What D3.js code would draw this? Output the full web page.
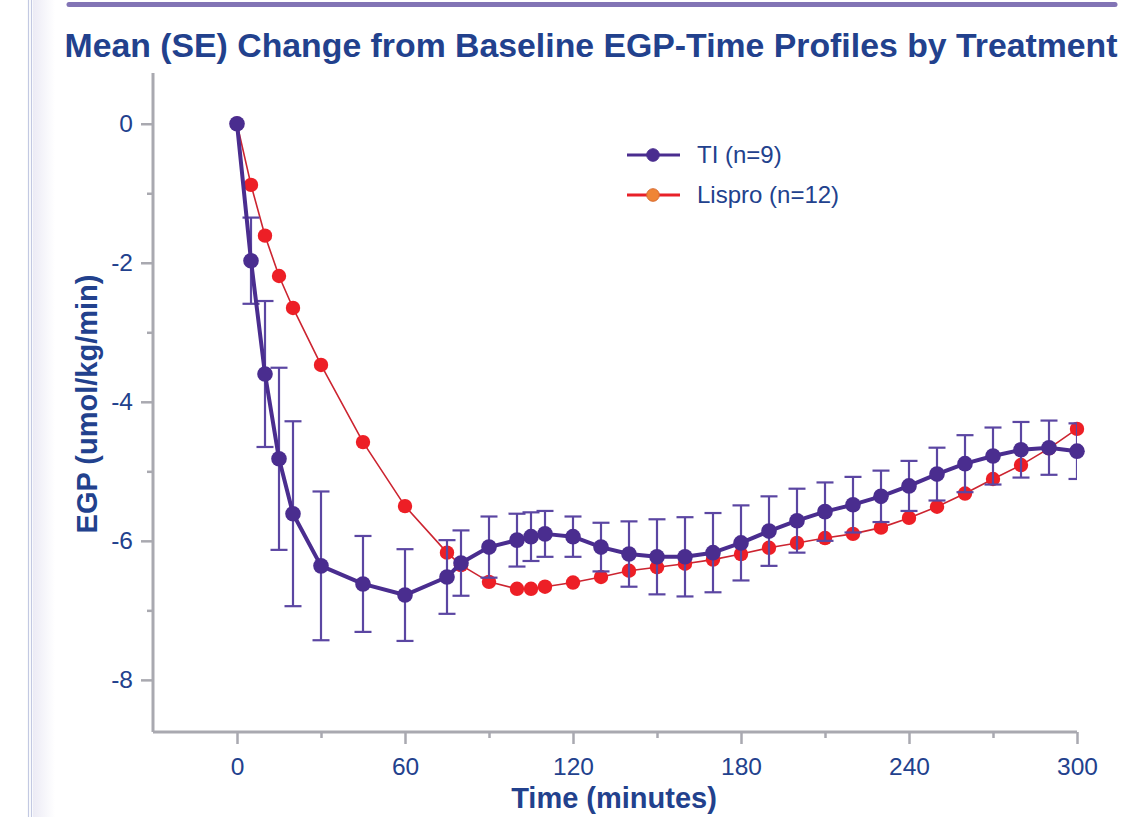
<!DOCTYPE html>
<html><head><meta charset="utf-8">
<script src="https://cdn.jsdelivr.net/npm/d3@7"></script>
<style>html,body{margin:0;padding:0;background:#fff;}svg{display:block;font-family:"Liberation Sans",Arial,sans-serif;}</style>
</head><body><svg id="c" width="1123" height="817"></svg>
<script>
const times = [0,5,10,15,20,30,45,60,75,80,90,100,105,110,120,130,140,150,160,170,180,190,200,210,220,230,240,250,260,270,280,290,300];
const tiMean = [0,-1.97,-3.60,-4.82,-5.61,-6.36,-6.62,-6.78,-6.52,-6.32,-6.09,-5.99,-5.94,-5.90,-5.94,-6.09,-6.19,-6.23,-6.23,-6.17,-6.03,-5.86,-5.71,-5.58,-5.48,-5.36,-5.21,-5.04,-4.89,-4.78,-4.69,-4.66,-4.71];
const tiSE = [0,0.62,1.05,1.31,1.33,1.07,0.69,0.66,0.53,0.47,0.44,0.38,0.35,0.33,0.29,0.35,0.47,0.54,0.57,0.57,0.54,0.50,0.46,0.42,0.40,0.37,0.36,0.38,0.41,0.41,0.40,0.39,0.40];
const lisproMean = [0,-0.88,-1.61,-2.19,-2.65,-3.47,-4.58,-5.50,-6.17,-6.35,-6.59,-6.69,-6.69,-6.66,-6.60,-6.52,-6.43,-6.38,-6.33,-6.27,-6.19,-6.10,-6.03,-5.96,-5.90,-5.81,-5.67,-5.51,-5.32,-5.11,-4.91,-4.67,-4.39];
const xMajor = [0,60,120,180,240,300];
const xMinor = [30,90,150,210,270];
const yMajor = [0,-2,-4,-6,-8];
const yMinor = [-1,-3,-5,-7];
const seriesNames = ["TI (n=9)","Lispro (n=12)"];
const title = "Mean (SE) Change from Baseline EGP-Time Profiles by Treatment";

const textCol = "#22418d", tiCol = "#4a2d8f", ebCol = "#5b46a2", redDot = "#ed1f26", redLine = "#cc2430", axisCol = "#a9a9b0";
const svg = d3.select("#c");
svg.append("rect").attr("width",1123).attr("height",817).attr("fill","#fff");

// decoration
const defs = svg.append("defs");
const grad = defs.append("linearGradient").attr("id","lg").attr("x1","0").attr("x2","1");
grad.append("stop").attr("offset","0").attr("stop-color","#ecebf5");
grad.append("stop").attr("offset","1").attr("stop-color","#ffffff");
svg.append("rect").attr("x",33).attr("y",0).attr("width",22).attr("height",817).attr("fill","url(#lg)");
svg.append("line").attr("x1",28.5).attr("x2",28.5).attr("y1",0).attr("y2",817).attr("stroke","#c3c9e2").attr("stroke-width",1.2);
svg.append("line").attr("x1",31.5).attr("x2",31.5).attr("y1",0).attr("y2",817).attr("stroke","#c3c9e2").attr("stroke-width",1.2);
svg.append("line").attr("x1",69).attr("x2",1115).attr("y1",4.5).attr("y2",4.5).attr("stroke","#8274b5").attr("stroke-width",5).attr("stroke-linecap","round");

svg.append("text").attr("x",591).attr("y",57).attr("text-anchor","middle").attr("font-size",33.8).attr("font-weight","bold").attr("fill",textCol).text(title);

const x = d3.scaleLinear().domain([-30,300]).range([153,1077]);
const y = d3.scaleLinear().domain([-8.75,0.73]).range([732,73]);
const fmt = d => String(d);

// axes
const gx = svg.append("g").attr("transform","translate(0,732)");
gx.call(d3.axisBottom(x).tickValues(xMajor).tickSize(12).tickPadding(8).tickFormat(fmt));
const gxm = svg.append("g").attr("transform","translate(0,732)");
gxm.call(d3.axisBottom(x).tickValues(xMinor).tickSize(6).tickFormat(""));
gxm.select(".domain").remove();
const gy = svg.append("g").attr("transform","translate(153,0)");
gy.call(d3.axisLeft(y).tickValues(yMajor).tickSize(12).tickPadding(8).tickFormat(fmt));
const gym = svg.append("g").attr("transform","translate(153,0)");
gym.call(d3.axisLeft(y).tickValues(yMinor).tickSize(6).tickFormat(""));
gym.select(".domain").remove();
[gx,gxm,gy,gym].forEach(g=>{
  g.selectAll(".domain").attr("stroke",axisCol).attr("stroke-width",3).attr("d", g===gx ? `M${x.range()[0]},0H${x.range()[1]}` : `M0,${y.range()[1]}V${y.range()[0]}`);
  g.selectAll(".tick line").attr("stroke",axisCol).attr("stroke-width",2.5);
  g.selectAll(".tick text").attr("fill",textCol).attr("font-size",24.5).attr("font-family","Liberation Sans, Arial, sans-serif");
});
gx.selectAll(".tick text").attr("dy","0.95em");

svg.append("text").attr("x",614).attr("y",808).attr("text-anchor","middle").attr("font-size",29).attr("font-weight","bold").attr("fill",textCol).text("Time (minutes)");
svg.append("text").attr("transform","translate(97,404) rotate(-90)").attr("text-anchor","middle").attr("font-size",29).attr("font-weight","bold").attr("fill",textCol).text("EGP (umol/kg/min)");

// Lispro
const line = d3.line().x(d=>x(d[0])).y(d=>y(d[1]));
const lis = times.map((t,i)=>[t,lisproMean[i]]);
svg.append("path").attr("d",line(lis)).attr("fill","none").attr("stroke",redLine).attr("stroke-width",1.6);
svg.append("g").selectAll("circle").data(lis).join("circle").attr("cx",d=>x(d[0])).attr("cy",d=>y(d[1])).attr("r",7.2).attr("fill",redDot);

// TI
defs.append("clipPath").attr("id","cp").append("rect").attr("x",153).attr("y",0).attr("width",1077-153).attr("height",817);
const ti = times.map((t,i)=>[t,tiMean[i],tiSE[i]]);
const eb = svg.append("g").attr("clip-path","url(#cp)").attr("stroke",ebCol).attr("stroke-width",2.2);
ti.filter(d=>d[2]>0).forEach(d=>{
  const cx = x(d[0]), y1 = y(d[1]+d[2]), y2 = y(d[1]-d[2]);
  eb.append("line").attr("x1",cx).attr("x2",cx).attr("y1",y1).attr("y2",y2);
  eb.append("line").attr("x1",cx-8.5).attr("x2",cx+8.5).attr("y1",y1).attr("y2",y1);
  eb.append("line").attr("x1",cx-8.5).attr("x2",cx+8.5).attr("y1",y2).attr("y2",y2);
});
svg.append("path").attr("d",line(ti)).attr("fill","none").attr("stroke",tiCol).attr("stroke-width",4).attr("stroke-linejoin","round");
svg.append("g").selectAll("circle").data(ti).join("circle").attr("cx",d=>x(d[0])).attr("cy",d=>y(d[1])).attr("r",7.8).attr("fill",tiCol);

// legend
const lg = svg.append("g");
const leg = [{name:seriesNames[0],line:tiCol,dot:tiCol,stroke:tiCol,lw:3,y:155},{name:seriesNames[1],line:"#e82028",dot:"#ef8535",stroke:"#d86a30",lw:3,y:195}];
leg.forEach(l=>{
  lg.append("line").attr("x1",627).attr("x2",680).attr("y1",l.y).attr("y2",l.y).attr("stroke",l.line).attr("stroke-width",l.lw);
  lg.append("circle").attr("cx",653).attr("cy",l.y).attr("r",6.3).attr("fill",l.dot).attr("stroke",l.stroke).attr("stroke-width",1);
  lg.append("text").attr("x",697).attr("y",l.y).attr("dy","0.35em").attr("font-size",24).attr("fill",textCol).text(l.name);
});
</script></body></html>
